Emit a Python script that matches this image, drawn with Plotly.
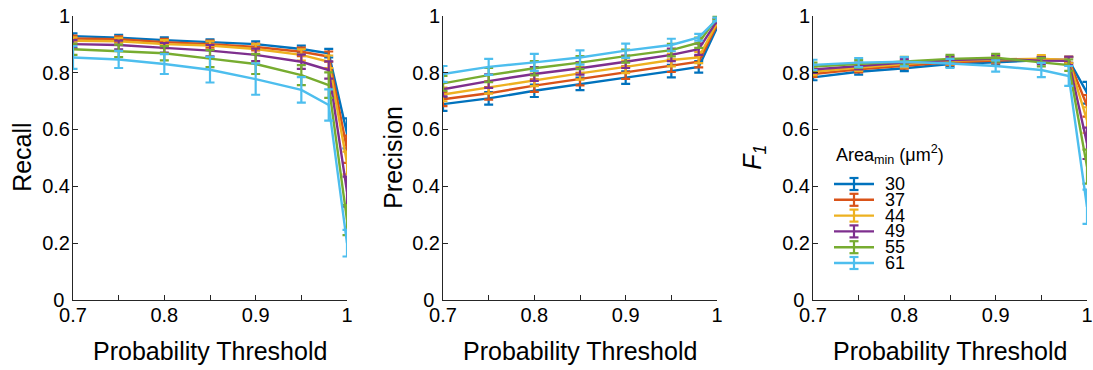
import plotly.graph_objects as go

thresholds = [0.7, 0.75, 0.8, 0.85, 0.9, 0.95, 0.98, 1.0]
areas = ["30", "37", "44", "49", "55", "61"]
colors = ["#0072BD", "#D95319", "#EDB120", "#7E2F8E", "#77AC30", "#4DBEEE"]

recall_30 = [0.928, 0.923, 0.914, 0.907, 0.900, 0.883, 0.868, 0.586]
recall_37 = [0.920, 0.917, 0.907, 0.900, 0.890, 0.873, 0.856, 0.530]
recall_44 = [0.912, 0.910, 0.900, 0.895, 0.883, 0.862, 0.838, 0.482]
recall_49 = [0.900, 0.897, 0.887, 0.877, 0.862, 0.838, 0.809, 0.381]
recall_55 = [0.882, 0.876, 0.868, 0.849, 0.830, 0.791, 0.756, 0.281]
recall_61 = [0.853, 0.846, 0.830, 0.810, 0.777, 0.739, 0.686, 0.200]
recall_err_30 = [0.010, 0.010, 0.010, 0.010, 0.010, 0.012, 0.015, 0.053]
recall_err_37 = [0.010, 0.010, 0.012, 0.012, 0.012, 0.015, 0.018, 0.048]
recall_err_44 = [0.012, 0.012, 0.014, 0.015, 0.017, 0.020, 0.022, 0.040]
recall_err_49 = [0.014, 0.015, 0.017, 0.020, 0.022, 0.025, 0.030, 0.053]
recall_err_55 = [0.020, 0.022, 0.025, 0.030, 0.035, 0.035, 0.045, 0.053]
recall_err_61 = [0.040, 0.030, 0.035, 0.045, 0.055, 0.045, 0.055, 0.047]

precision_30 = [0.689, 0.709, 0.736, 0.760, 0.782, 0.805, 0.820, 0.958]
precision_37 = [0.706, 0.727, 0.754, 0.777, 0.800, 0.824, 0.838, 0.968]
precision_44 = [0.723, 0.748, 0.774, 0.797, 0.820, 0.844, 0.853, 0.975]
precision_49 = [0.741, 0.770, 0.795, 0.815, 0.838, 0.862, 0.882, 0.982]
precision_55 = [0.762, 0.791, 0.815, 0.835, 0.858, 0.879, 0.905, 0.993]
precision_61 = [0.795, 0.820, 0.836, 0.853, 0.877, 0.897, 0.924, 0.987]
precision_err_30 = [0.024, 0.022, 0.022, 0.022, 0.022, 0.022, 0.020, 0.008]
precision_err_37 = [0.024, 0.022, 0.022, 0.022, 0.022, 0.022, 0.020, 0.008]
precision_err_44 = [0.024, 0.022, 0.022, 0.022, 0.022, 0.022, 0.020, 0.008]
precision_err_49 = [0.025, 0.024, 0.024, 0.022, 0.022, 0.022, 0.020, 0.008]
precision_err_55 = [0.026, 0.025, 0.025, 0.023, 0.023, 0.022, 0.018, 0.006]
precision_err_61 = [0.028, 0.028, 0.030, 0.025, 0.025, 0.022, 0.012, 0.006]

f1_30 = [0.783, 0.803, 0.815, 0.830, 0.836, 0.844, 0.844, 0.729]
f1_37 = [0.795, 0.811, 0.824, 0.836, 0.842, 0.846, 0.844, 0.683]
f1_44 = [0.803, 0.818, 0.830, 0.841, 0.846, 0.849, 0.844, 0.633]
f1_49 = [0.811, 0.823, 0.835, 0.844, 0.848, 0.842, 0.841, 0.551]
f1_55 = [0.821, 0.830, 0.841, 0.848, 0.852, 0.837, 0.826, 0.469]
f1_61 = [0.827, 0.835, 0.838, 0.832, 0.823, 0.809, 0.788, 0.328]
f1_err_30 = [0.010, 0.010, 0.010, 0.010, 0.010, 0.010, 0.010, 0.038]
f1_err_37 = [0.010, 0.010, 0.010, 0.010, 0.010, 0.010, 0.010, 0.038]
f1_err_44 = [0.012, 0.012, 0.012, 0.012, 0.012, 0.012, 0.012, 0.045]
f1_err_49 = [0.012, 0.012, 0.012, 0.012, 0.012, 0.012, 0.015, 0.055]
f1_err_55 = [0.014, 0.014, 0.014, 0.014, 0.014, 0.015, 0.020, 0.060]
f1_err_61 = [0.018, 0.016, 0.016, 0.016, 0.020, 0.025, 0.035, 0.060]

recall = [recall_30, recall_37, recall_44, recall_49, recall_55, recall_61]
recall_err = [recall_err_30, recall_err_37, recall_err_44, recall_err_49, recall_err_55, recall_err_61]
precision = [precision_30, precision_37, precision_44, precision_49, precision_55, precision_61]
precision_err = [precision_err_30, precision_err_37, precision_err_44, precision_err_49, precision_err_55, precision_err_61]
f1 = [f1_30, f1_37, f1_44, f1_49, f1_55, f1_61]
f1_err = [f1_err_30, f1_err_37, f1_err_44, f1_err_49, f1_err_55, f1_err_61]

x_tickvals = [0.7, 0.75, 0.8, 0.85, 0.9, 0.95, 1.0]
x_ticktext = ["0.7", "", "0.8", "", "0.9", "", "1"]
y_tickvals = [0, 0.2, 0.4, 0.6, 0.8, 1.0]
y_ticktext = ["0\u00a0", "0.2", "0.4", "0.6", "0.8", "1"]
x_title = "Probability Threshold"
y_titles = ["Recall", "Precision", "<i>F</i><sub><i>1</i></sub>"]
legend_title = "Area<sub>min</sub> (μm<sup>2</sup>)"

W, H = 1093, 370
FONT = "Liberation Sans, Arial, sans-serif"
AX = "#262626"
BLACK = "#000000"

def px(xp):
    return xp / W

def py(yp):
    return 1 - yp / H

fig = go.Figure()
panels = [(recall, recall_err), (precision, precision_err), (f1, f1_err)]
for p, (vals, errs) in enumerate(panels):
    xa = "x" if p == 0 else f"x{p+1}"
    ya = "y" if p == 0 else f"y{p+1}"
    for i in range(len(areas)):
        fig.add_trace(go.Scatter(
            x=thresholds, y=vals[i], mode="lines", name=areas[i],
            line=dict(color=colors[i], width=2.4),
            error_y=dict(type="data", array=errs[i], visible=True,
                         color=colors[i], thickness=2.2, width=4.5),
            xaxis=xa, yaxis=ya, showlegend=False,
        ))

x_left = [73, 443, 813]
x_right = [347, 717, 1087]
y_top, y_bot = 15.7, 300
y_title_x = [22, 393, 754]

annotations = []
shapes = []
layout = dict(
    width=W, height=H,
    margin=dict(l=0, r=0, t=0, b=0),
    paper_bgcolor="white", plot_bgcolor="white",
    font=dict(family=FONT, size=20, color=BLACK),
    showlegend=False,
)
for p in range(3):
    xk = "xaxis" if p == 0 else f"xaxis{p+1}"
    yk = "yaxis" if p == 0 else f"yaxis{p+1}"
    xa = "x" if p == 0 else f"x{p+1}"
    ya = "y" if p == 0 else f"y{p+1}"
    layout[xk] = dict(
        domain=[px(x_left[p]), px(x_right[p])], range=[0.7, 1.0], anchor=ya,
        tickvals=x_tickvals, ticktext=x_ticktext,
        ticks="inside", ticklen=5, tickwidth=1, tickcolor=AX,
        showline=True, linecolor=AX, linewidth=1, mirror=False,
        showgrid=False, zeroline=False, automargin=False,
        ticklabelstandoff=-3,
        tickfont=dict(size=20, family=FONT, color=BLACK),
    )
    layout[yk] = dict(
        domain=[py(y_bot), py(y_top)], range=[0, 1.0], anchor=xa,
        tickvals=y_tickvals, ticktext=y_ticktext,
        ticks="inside", ticklen=5, tickwidth=1, tickcolor=AX,
        showline=True, linecolor=AX, linewidth=1, mirror=False,
        showgrid=False, zeroline=False, automargin=False,
        ticklabelstandoff=-2,
        tickfont=dict(size=20, family=FONT, color=BLACK),
    )
    annotations.append(dict(
        text=x_title, xref="paper", yref="paper",
        x=px((x_left[p] + x_right[p]) / 2), y=py(351),
        xanchor="center", yanchor="middle", showarrow=False,
        font=dict(size=25, family=FONT, color=BLACK),
    ))
    annotations.append(dict(
        text=y_titles[p], xref="paper", yref="paper",
        x=px(y_title_x[p]), y=py((y_top + y_bot) / 2),
        xanchor="center", yanchor="middle", showarrow=False, textangle=-90,
        font=dict(size=25, family=FONT, color=BLACK),
    ))

# legend (inside the F1 panel)
annotations.append(dict(
    text=legend_title, xref="paper", yref="paper",
    x=px(834), y=py(154), xanchor="left", yanchor="middle", showarrow=False,
    font=dict(size=18, family=FONT, color=BLACK),
))
row0, row_step = 184, 15.8
for i in range(len(areas)):
    yc = row0 + i * row_step
    shapes.append(dict(type="line", xref="paper", yref="paper",
                       x0=px(834), x1=px(874), y0=py(yc), y1=py(yc),
                       line=dict(color=colors[i], width=2.4)))
    shapes.append(dict(type="line", xref="paper", yref="paper",
                       x0=px(854), x1=px(854), y0=py(yc - 6), y1=py(yc + 6),
                       line=dict(color=colors[i], width=2.2)))
    for dy in (-6, 6):
        shapes.append(dict(type="line", xref="paper", yref="paper",
                           x0=px(849.5), x1=px(858.5), y0=py(yc + dy), y1=py(yc + dy),
                           line=dict(color=colors[i], width=2.2)))
    annotations.append(dict(
        text=areas[i], xref="paper", yref="paper",
        x=px(883), y=py(yc), xanchor="left", yanchor="middle", showarrow=False,
        font=dict(size=18, family=FONT, color=BLACK),
    ))

layout["annotations"] = annotations
layout["shapes"] = shapes
fig.update_layout(**layout)
fig.write_html("out.html", config={"displayModeBar": False},
               post_script="document.body.style.margin='0';")
